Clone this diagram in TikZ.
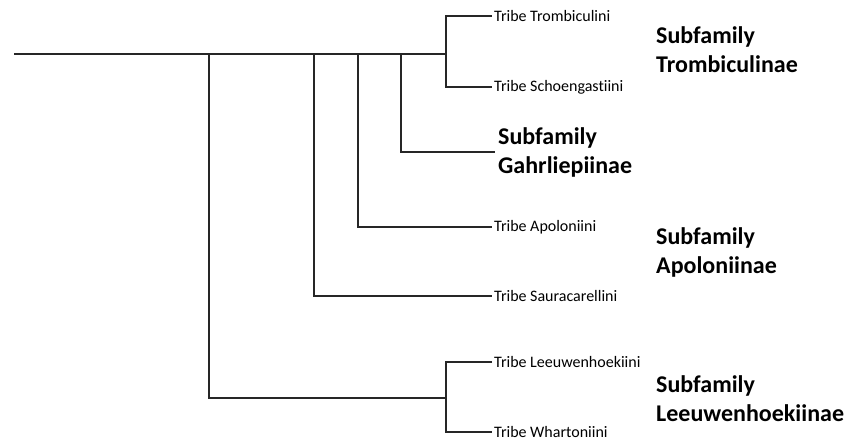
\documentclass[tikz,border=0pt]{standalone}
\usepackage{fontspec}
\setmainfont[Ligatures=NoCommon]{Carlito}
\usepackage{tikz}
\usetikzlibrary{positioning,calc}
\tikzstyle{branch}=[line width=1.4, color=black!85]
\tikzstyle{tribe}=[anchor=west, inner sep=2pt, font=\fontsize{16}{19}\selectfont]
\tikzstyle{subfam}=[anchor=west, inner sep=0pt, align=left, font=\fontsize{24}{29}\selectfont\bfseries]

\begin{document}
\begin{tikzpicture}[x=1pt, y=-1pt]
    \useasboundingbox (0,0) rectangle (849,444);

    % branch points on the backbone
    \coordinate (root) at (14,54);
    \coordinate (n1) at (209,54);
    \coordinate (n2) at (314,54);
    \coordinate (n3) at (358,54);
    \coordinate (n4) at (401,54);
    \coordinate (n5) at (446,54);
    \coordinate (n6) at (446,398);

    % tips
    \node (trom) [tribe] at (492,16) {Tribe Trombiculini};
    \node (schoen) [tribe] at (492,87) {Tribe Schoengastiini};
    \node (gahr) [subfam, inner sep=3pt] at (495,152) {Subfamily\\Gahrliepiinae};
    \node (apol) [tribe] at (492,227) {Tribe Apoloniini};
    \node (saur) [tribe] at (492,296) {Tribe Sauracarellini};
    \node (leeu) [tribe] at (492,362) {Tribe Leeuwenhoekiini};
    \node (whar) [tribe] at (492,432) {Tribe Whartoniini};

    \draw[branch] (root) -- (n5);
    \draw[branch] (trom.west) -| (n5) |- (schoen.west);
    \draw[branch] (n4) |- (gahr.west);
    \draw[branch] (n3) |- (apol.west);
    \draw[branch] (n2) |- (saur.west);
    \draw[branch] (n1) |- (n6);
    \draw[branch] (leeu.west) -| (n6) |- (whar.west);

    % subfamily labels
    \node (trombic) [subfam] at (656,49.5) {Subfamily\\Trombiculinae};
    \node (apolon) [subfam] at (656,252.5) {Subfamily\\Apoloniinae};
    \node (leeuw) [subfam] at (656,399) {Subfamily\\Leeuwenhoekiinae};

\end{tikzpicture}
\end{document}
